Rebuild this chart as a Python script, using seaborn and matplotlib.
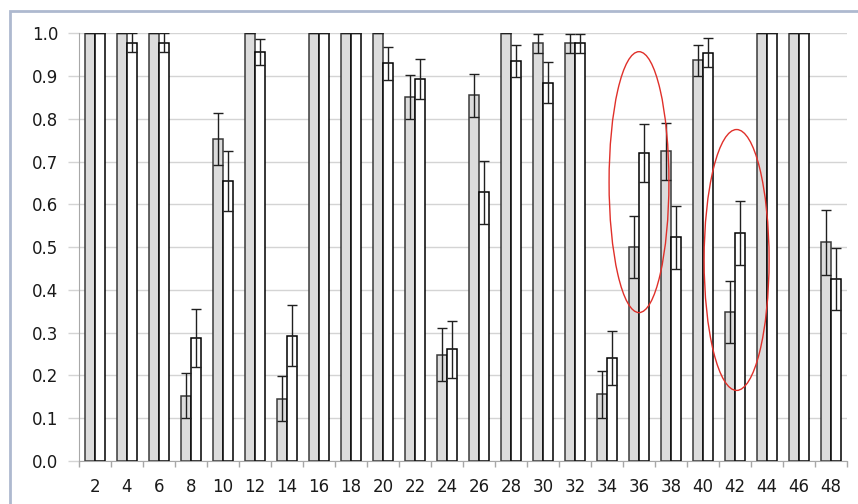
import numpy as np
import pandas as pd
import matplotlib
matplotlib.use("Agg")
import matplotlib.pyplot as plt
import seaborn as sns
from matplotlib.patches import Ellipse, Rectangle
from matplotlib.ticker import FixedLocator

# group labels along the x axis
groups = ["2", "4", "6", "8", "10", "12", "14", "16", "18", "20", "22", "24",
          "26", "28", "30", "32", "34", "36", "38", "40", "42", "44", "46", "48"]

# grey series (first bar of each pair)
grey_vals = [1.0, 1.0, 1.0, 0.153, 0.752, 1.0, 0.146, 1.0, 1.0, 1.0, 0.851, 0.249,
             0.855, 1.0, 0.977, 0.977, 0.156, 0.501, 0.724, 0.937, 0.349, 1.0, 1.0, 0.511]
grey_err = [0, 0, 0, 0.053, 0.061, 0, 0.052, 0, 0, 0, 0.052, 0.062,
            0.051, 0, 0.022, 0.022, 0.055, 0.072, 0.066, 0.036, 0.072, 0, 0, 0.075]

# white series (second bar of each pair)
white_vals = [1.0, 0.978, 0.978, 0.287, 0.654, 0.956, 0.293, 1.0, 1.0, 0.930, 0.893, 0.261,
              0.628, 0.935, 0.884, 0.977, 0.240, 0.721, 0.523, 0.955, 0.533, 1.0, 1.0, 0.425]
white_err = [0, 0.022, 0.022, 0.068, 0.070, 0.031, 0.071, 0, 0, 0.039, 0.046, 0.066,
             0.074, 0.037, 0.048, 0.022, 0.063, 0.068, 0.073, 0.033, 0.074, 0, 0, 0.072]

# groups circled in red
circled = ["36", "42"]


def build_frame():
    df_grey = pd.DataFrame({"group": groups, "value": grey_vals, "err": grey_err, "series": "grey"})
    df_white = pd.DataFrame({"group": groups, "value": white_vals, "err": white_err, "series": "white"})
    return pd.concat([df_grey, df_white], ignore_index=True)


def plot(df):
    sns.set_style("white")
    plt.rcParams["font.family"] = ["DejaVu Sans"]
    fig = plt.figure(figsize=(8.58, 5.04), dpi=100)
    ax = fig.add_axes([79 / 858, 1 - 461 / 504, 768 / 858, (461 - 33.3) / 504])

    sns.barplot(
        data=df, x="group", y="value", hue="series", order=groups,
        hue_order=["grey", "white"], palette={"grey": "#DCDCDC", "white": "white"},
        width=0.6, errorbar=None, legend=False, ax=ax, zorder=2,
    )
    # edges differ per series
    for patch, (_, row) in zip(ax.patches, df.iterrows()):
        if row["series"] == "grey":
            patch.set_edgecolor("#3A3A3A")
        else:
            patch.set_edgecolor("black")
        patch.set_linewidth(1.1)

    # error bars on the bar centres
    xs = [p.get_x() + p.get_width() / 2 for p in ax.patches[: len(df)]]
    ys = [p.get_height() for p in ax.patches[: len(df)]]
    ax.errorbar(xs, ys, yerr=df["err"].values, fmt="none", ecolor="#202020",
                elinewidth=1.0, capsize=3.6, capthick=1.0, zorder=3)

    ax.set_ylim(0, 1.0)
    ax.set_xlim(-0.5, len(groups) - 0.5)
    ax.set_yticks(np.arange(0, 1.01, 0.1))
    ax.set_yticklabels([f"{v:.1f}" for v in np.arange(0, 1.01, 0.1)])
    ax.yaxis.grid(True, color="#D4D4D4", linewidth=1.0, zorder=0)
    ax.set_axisbelow(True)
    ax.xaxis.set_minor_locator(FixedLocator(np.arange(-0.5, len(groups), 1.0)))
    ax.tick_params(axis="x", which="major", length=0, pad=12, labelsize=12, colors="#1A1A1A")
    ax.tick_params(axis="x", which="minor", length=4.5, width=1, color="#A8A8A8", bottom=True)
    ax.tick_params(axis="y", length=8, width=1, color="#D4D4D4", pad=7, labelsize=12, left=True)
    for lbl in ax.get_yticklabels():
        lbl.set_color("#1A1A1A")
    ax.set_xlabel("")
    ax.set_ylabel("")

    sns.despine(ax=ax, top=True, right=True)
    ax.spines["left"].set_color("#A8A8A8")
    ax.spines["bottom"].set_color("#A8A8A8")

    # red ellipses marking two groups
    i36 = groups.index(circled[0])
    i42 = groups.index(circled[1])
    ax.add_patch(Ellipse((i36, 0.652), 1.87, 0.61, fill=False, edgecolor="#E0302A",
                         linewidth=1.0, zorder=4, clip_on=False))
    ax.add_patch(Ellipse((i42 + 0.05, 0.47), 2.03, 0.61, fill=False, edgecolor="#E0302A",
                         linewidth=1.0, zorder=4, clip_on=False))

    # outer chart frame
    fig.patches.append(Rectangle((10 / 858, -0.1), 1.2, 1.1 - 11 / 504,
                                 transform=fig.transFigure, fill=False,
                                 edgecolor="#AEB9CF", linewidth=2.0))

    fig.savefig("out.png", dpi=100)


def main():
    df = build_frame()
    plot(df)


if __name__ == "__main__":
    main()
